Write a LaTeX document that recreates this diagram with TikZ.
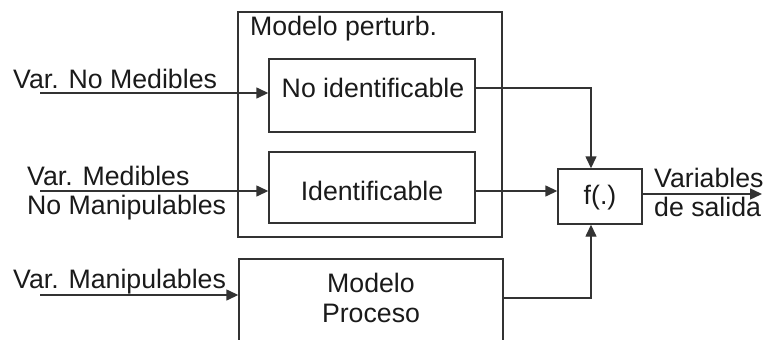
\documentclass[tikz,border=0pt]{standalone}
\usepackage{fontspec}
\setmainfont{Liberation Sans}
\usetikzlibrary{arrows.meta}
\definecolor{ln}{HTML}{333333}
\definecolor{tx}{HTML}{1A1A1A}
\tikzset{
  blk/.style={draw=ln, line width=1.4pt, inner sep=0pt},
  lbl/.style={inner sep=0pt, anchor=base west, text=tx, font=\fontsize{26.7pt}{31pt}\selectfont},
  clbl/.style={inner sep=0pt, anchor=base, text=tx, font=\fontsize{26.7pt}{31pt}\selectfont},
  conn/.style={draw=ln, line width=1.4pt},
  arr/.style={conn, -{Triangle[length=12pt,width=11pt]}}
}
\begin{document}
\begin{tikzpicture}[x=1pt,y=-1pt]
\useasboundingbox (0,0) rectangle (764,340);
\clip (0,0) rectangle (764,340);
% boxes
\node[blk, minimum width=264pt, minimum height=225pt] (pert) at (370,124.5) {};
\node[blk, minimum width=206pt, minimum height=73pt] (noid) at (372,95.5) {};
\node[blk, minimum width=206pt, minimum height=71pt] (idf) at (372,187.5) {};
\node[blk, minimum width=84pt, minimum height=55pt] (f) at (600,196.5) {};
\node[blk, minimum width=264pt, minimum height=131pt] (proc) at (371,324.5) {};
% texts
\node[lbl] (tpert) at (250,35) {Modelo perturb.};
\node[clbl] (tnoid) at (373,97) {No identificable};
\node[clbl] (tidf) at (372,200) {Identificable};
\node[clbl] (tf) at (600,204) {f(.)};
\node[clbl] (tproc1) at (371,292) {Modelo};
\node[clbl] (tproc2) at (371,322) {Proceso};
\node[lbl] (tin1) at (13,88) {Var. No Medibles};
\node[lbl] (tin2a) at (27,185) {Var. Medibles};
\node[lbl] (tin2b) at (27,214) {No Manipulables};
\node[lbl] (tin3) at (13,288) {Var. Manipulables};
\node[lbl] (tout1) at (654,187) {Variables};
\node[lbl] (tout2) at (654,216) {de salida};
% connector ends
\coordinate (s1) at (40,93);
\coordinate (s2) at (40,191);
\coordinate (s3) at (40,295);
\coordinate (e4) at (762,194);
% connectors
\draw[arr] (s1) -- (noid.west |- s1);
\draw[arr] (s2) -- (idf.west |- s2);
\draw[arr] (s3) -- (proc.west |- s3);
\draw[arr] (noid.east |- 0,88) -| (f.north -| 591,0);
\draw[arr] (idf.east |- s2) -- (f.west |- s2);
\draw[arr] (proc.east |- 0,298) -| (f.south -| 591,0);
\draw[arr] (f.east |- e4) -- (e4);
\end{tikzpicture}
\end{document}
